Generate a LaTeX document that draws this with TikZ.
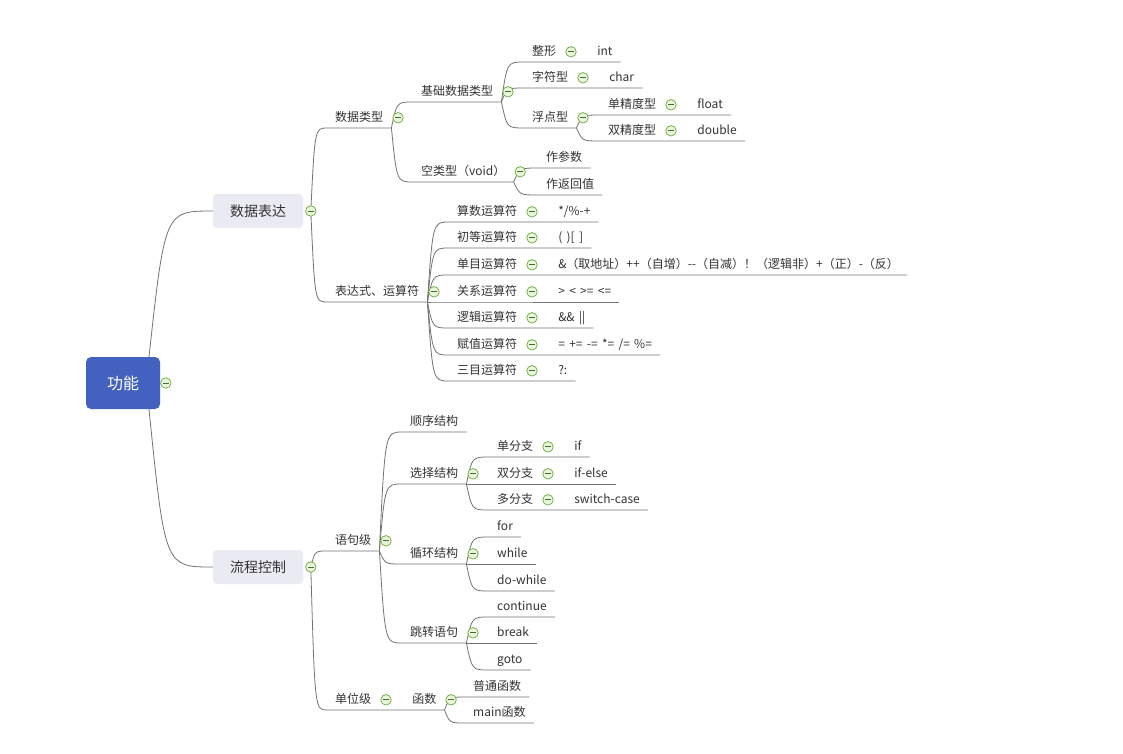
\documentclass[tikz,border=0pt]{standalone}
\usepackage{fontspec}
\setmainfont[WordSpace=1.6]{Noto Sans CJK SC}
\usepackage{tikz}
\usetikzlibrary{positioning, calc, backgrounds}
\definecolor{rootblue}{RGB}{67,97,190}
\definecolor{boxgray}{RGB}{234,234,242}
\definecolor{txtgray}{RGB}{51,51,51}
\definecolor{linegray}{RGB}{115,115,115}
\definecolor{foldgreen}{RGB}{104,172,52}
\definecolor{foldfill}{RGB}{234,245,224}
\definecolor{minusgreen}{RGB}{70,110,40}
\tikzstyle{rootbox} = [rectangle, rounded corners=5pt, fill=rootblue,
    text=white, minimum width=74pt, minimum height=52pt,
    font=\fontsize{16}{18}\selectfont]
\tikzstyle{mainbox} = [rectangle, rounded corners=4pt, fill=boxgray,
    text=txtgray, minimum width=90pt, minimum height=34pt,
    font=\fontsize{14}{16}\selectfont]
\tikzstyle{topic} = [anchor=south west, inner xsep=8pt, inner ysep=4.5pt,
    text height=9pt, text depth=2pt, text=txtgray,
    font=\fontsize{12}{14}\selectfont]
\tikzstyle{fold} = [circle, draw=foldgreen, fill=foldfill, line width=0.7pt,
    minimum size=10.5pt, inner sep=0pt,
    path picture={\draw[minusgreen, line width=0.9pt]
      ([xshift=-3pt]path picture bounding box.center) --
      ([xshift=3pt]path picture bounding box.center);}]
\tikzstyle{branchline} = [draw=linegray, line width=0.8pt]
\tikzstyle{branchto} = [to path={let \p1=(\tikztostart), \p2=(\tikztotarget) in
    .. controls ({\x1+0.25*(\x2-\x1)},\y2) .. (\tikztotarget) \tikztonodes}]

\begin{document}
\begin{tikzpicture}[x=1pt, y=-1pt]
\useasboundingbox (0,0) rectangle (1123,753);
% root and main topics
\node [rootbox] (gn) at (123,383) {功能};
\node [fold, right=0pt of gn] (gnF) {};
\node [mainbox] (sjbd) at (258,211) {数据表达};
\node [fold, right=2pt of sjbd] (sjbdF) {};
\node [mainbox] (lckz) at (258,567) {流程控制};
\node [fold, right=2pt of lckz] (lckzF) {};

% data types
\node [topic] (sjlx) at (327,128) {数据类型};
\node [fold, right=1pt of sjlx] (sjlxF) {};
\node [topic] (jcsj) at (413,102) {基础数据类型};
\node [fold, right=1pt of jcsj] (jcsjF) {};
\node [topic] (zx) at (524,62) {整形};
\node [fold, right=1pt of zx] (zxF) {};
\node [topic, right=12.5pt of zxF] (zxV) {int};
\node [topic] (zfx) at (524,88) {字符型};
\node [fold, right=1pt of zfx] (zfxF) {};
\node [topic, right=12.5pt of zfxF] (zfxV) {char};
\node [topic] (fdx) at (524,128) {浮点型};
\node [fold, right=1pt of fdx] (fdxF) {};
\node [topic] (djd) at (600,115) {单精度型};
\node [fold, right=1pt of djd] (djdF) {};
\node [topic, right=12.5pt of djdF] (djdV) {float};
\node [topic] (sjd) at (600,141) {双精度型};
\node [fold, right=1pt of sjd] (sjdF) {};
\node [topic, right=12.5pt of sjdF] (sjdV) {double};
\node [topic] (klx) at (413,182) {空类型（void）};
\node [fold, right=1pt of klx] (klxF) {};
\node [topic] (zcs) at (538,168) {作参数};
\node [topic] (zfh) at (538,195) {作返回值};

% operators
\node [topic] (bds) at (327,302) {表达式、运算符};
\node [fold, right=1pt of bds] (bdsF) {};
\node [topic] (ss) at (449,222) {算数运算符};
\node [fold, right=1pt of ss] (ssF) {};
\node [topic, right=12.5pt of ssF] (ssV) {*/\%-+};
\node [topic] (cd) at (449,248) {初等运算符};
\node [fold, right=1pt of cd] (cdF) {};
\node [topic, right=12.5pt of cdF] (cdV) {( )[ ]};
\node [topic] (dm) at (449,275) {单目运算符};
\node [fold, right=1pt of dm] (dmF) {};
\node [topic, right=12.5pt of dmF] (dmV) {\&（取地址）++（自增）-{}-（自减）！（逻辑非）+（正）-（反）};
\node [topic] (gx) at (449,302) {关系运算符};
\node [fold, right=1pt of gx] (gxF) {};
\node [topic, right=12.5pt of gxF] (gxV) {> < >= <=};
\node [topic] (lj) at (449,328) {逻辑运算符};
\node [fold, right=1pt of lj] (ljF) {};
\node [topic, right=12.5pt of ljF] (ljV) {\&\& ||};
\node [topic] (fz) at (449,355) {赋值运算符};
\node [fold, right=1pt of fz] (fzF) {};
\node [topic, right=12.5pt of fzF] (fzV) {= += -= *= /= \%=};
\node [topic] (sm) at (449,381) {三目运算符};
\node [fold, right=1pt of sm] (smF) {};
\node [topic, right=12.5pt of smF] (smV) {?:};

% statements
\node [topic] (yjj) at (327,551) {语句级};
\node [fold, right=1pt of yjj] (yjjF) {};
\node [topic] (sx) at (402,432) {顺序结构};
\node [topic] (xz) at (402,484) {选择结构};
\node [fold, right=1pt of xz] (xzF) {};
\node [topic] (dfz) at (489,457) {单分支};
\node [fold, right=1pt of dfz] (dfzF) {};
\node [topic, right=12.5pt of dfzF] (dfzV) {if};
\node [topic] (sfz) at (489,484) {双分支};
\node [fold, right=1pt of sfz] (sfzF) {};
\node [topic, right=12.5pt of sfzF] (sfzV) {if-else};
\node [topic] (duofz) at (489,510) {多分支};
\node [fold, right=1pt of duofz] (duofzF) {};
\node [topic, right=12.5pt of duofzF] (duofzV) {switch-case};
\node [topic] (xh) at (402,564) {循环结构};
\node [fold, right=1pt of xh] (xhF) {};
\node [topic] (xhA) at (489,537) {for};
\node [topic] (xhB) at (489,564) {while};
\node [topic] (xhC) at (489,591) {do-while};
\node [topic] (tz) at (402,643) {跳转语句};
\node [fold, right=1pt of tz] (tzF) {};
\node [topic] (tzA) at (489,617) {continue};
\node [topic] (tzB) at (489,643) {break};
\node [topic] (tzC) at (489,670) {goto};

% functions
\node [topic] (dwj) at (327,710) {单位级};
\node [fold, right=1pt of dwj] (dwjF) {};
\node [topic, right=12.5pt of dwjF] (hs) {函数};
\node [fold, right=1pt of hs] (hsF) {};
\node [topic] (hsA) at (465,697) {普通函数};
\node [topic] (hsB) at (465,723) {main函数};

\begin{scope}[on background layer]
\fill [white] (0,0) rectangle (1123,753);
\draw [branchline] ([xshift=26pt]gn.north) to[branchto] (sjbd.west);
\draw [branchline] ([xshift=26pt]gn.south) to[branchto] (lckz.west);
% data branch
\draw [branchline] (sjbdF.center) to[branchto] (sjlx.south west) -- (sjlx.south east);
\draw [branchline] (sjbdF.center) to[branchto] (bds.south west) -- (bds.south east);
\draw [branchline] (sjlx.south east) to[branchto] (jcsj.south west) -- (jcsj.south east);
\draw [branchline] (sjlx.south east) to[branchto] (klx.south west) -- (klx.south east);
\draw [branchline] (jcsj.south east) to[branchto] (zx.south west) -- (zxV.south east);
\draw [branchline] (jcsj.south east) to[branchto] (zfx.south west) -- (zfxV.south east);
\draw [branchline] (jcsj.south east) to[branchto] (fdx.south west) -- (fdx.south east);
\draw [branchline] (fdx.south east) to[branchto] (djd.south west) -- (djdV.south east);
\draw [branchline] (fdx.south east) to[branchto] (sjd.south west) -- (sjdV.south east);
\draw [branchline] (klx.south east) to[branchto] (zcs.south west) -- (zcs.south east);
\draw [branchline] (klx.south east) to[branchto] (zfh.south west) -- (zfh.south east);
\draw [branchline] (bds.south east) to[branchto] (ss.south west) -- (ssV.south east);
\draw [branchline] (bds.south east) to[branchto] (cd.south west) -- (cdV.south east);
\draw [branchline] (bds.south east) to[branchto] (dm.south west) -- (dmV.south east);
\draw [branchline] (bds.south east) to[branchto] (gx.south west) -- (gxV.south east);
\draw [branchline] (bds.south east) to[branchto] (lj.south west) -- (ljV.south east);
\draw [branchline] (bds.south east) to[branchto] (fz.south west) -- (fzV.south east);
\draw [branchline] (bds.south east) to[branchto] (sm.south west) -- (smV.south east);
% control branch
\draw [branchline] (lckzF.center) to[branchto] (yjj.south west) -- (yjj.south east);
\draw [branchline] (lckzF.center) to[branchto] (dwj.south west) -- (hs.south east);
\draw [branchline] (yjj.south east) to[branchto] (sx.south west) -- (sx.south east);
\draw [branchline] (yjj.south east) to[branchto] (xz.south west) -- (xz.south east);
\draw [branchline] (yjj.south east) to[branchto] (xh.south west) -- (xh.south east);
\draw [branchline] (yjj.south east) to[branchto] (tz.south west) -- (tz.south east);
\draw [branchline] (xz.south east) to[branchto] (dfz.south west) -- (dfzV.south east);
\draw [branchline] (xz.south east) to[branchto] (sfz.south west) -- (sfzV.south east);
\draw [branchline] (xz.south east) to[branchto] (duofz.south west) -- (duofzV.south east);
\draw [branchline] (xh.south east) to[branchto] (xhA.south west) -- (xhA.south east);
\draw [branchline] (xh.south east) to[branchto] (xhB.south west) -- (xhB.south east);
\draw [branchline] (xh.south east) to[branchto] (xhC.south west) -- (xhC.south east);
\draw [branchline] (tz.south east) to[branchto] (tzA.south west) -- (tzA.south east);
\draw [branchline] (tz.south east) to[branchto] (tzB.south west) -- (tzB.south east);
\draw [branchline] (tz.south east) to[branchto] (tzC.south west) -- (tzC.south east);
\draw [branchline] (hs.south east) to[branchto] (hsA.south west) -- (hsA.south east);
\draw [branchline] (hs.south east) to[branchto] (hsB.south west) -- (hsB.south east);
\end{scope}
\end{tikzpicture}
\end{document}
